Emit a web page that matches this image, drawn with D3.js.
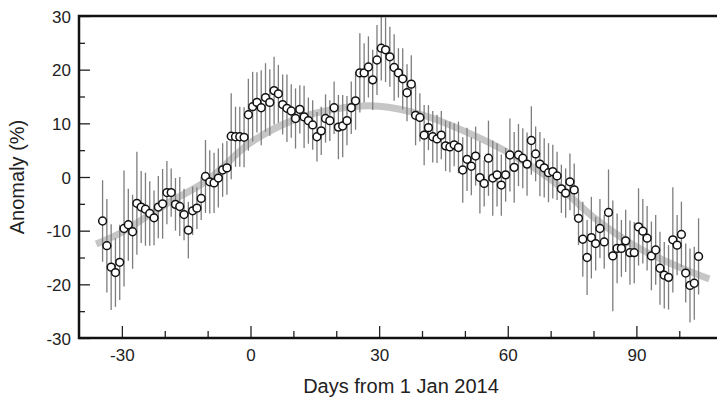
<!DOCTYPE html>
<html>
<head>
<meta charset="utf-8">
<script src="https://cdn.jsdelivr.net/npm/d3@7/dist/d3.min.js"></script>
<style>
  html, body { margin: 0; padding: 0; background: #fff; }
  svg { display: block; }
  text { font-family: "Liberation Sans", Arial, Helvetica, sans-serif; fill: #222; }
</style>
</head>
<body>
<div id="chart"></div>
<script>
// daily samples start at day -34.5 (noon)
const firstDay = -34.5;

const anomaly = [
  -8.2, -12.8, -16.8, -17.8, -15.9, -9.6, -8.9, -10.2, -4.9, -5.6,
  -6.0, -6.8, -7.6, -5.6, -5.0, -2.9, -2.9, -5.1, -5.5, -7.0,
  -9.9, -6.3, -5.8, -4.0, 0.1, -0.9, -1.1, -0.2, 1.3, 1.7,
  7.6, 7.5, 7.5, 7.4, 11.6, 13.1, 13.9, 12.9, 14.8, 13.9,
  16.1, 15.5, 13.5, 12.8, 12.3, 10.9, 12.6, 11.2, 10.5, 9.7,
  7.5, 8.6, 10.9, 10.5, 12.9, 9.3, 9.5, 10.5, 12.9, 14.2,
  19.4, 19.4, 20.5, 18.1, 21.8, 24.0, 23.7, 22.4, 20.4, 19.4,
  18.3, 15.7, 17.3, 11.5, 11.1, 7.8, 9.2, 7.5, 7.1, 7.8,
  5.8, 5.6, 6.0, 5.5, 1.3, 3.3, 2.0, 3.9, -0.1, -1.2,
  3.5, -0.2, 0.4, -1.5, 0.4, 4.1, 1.8, 4.1, 3.5, 2.4,
  6.8, 4.3, 2.4, 1.7, 0.8, 1.0, 0.2, -2.2, -3.0, -0.9,
  -2.4, -7.7, -11.6, -15.0, -11.3, -12.4, -9.6, -12.1, -6.6, -14.7,
  -13.3, -13.3, -11.9, -14.1, -14.1, -9.3, -10.1, -11.4, -14.7, -13.6,
  -17.0, -18.3, -18.7, -11.7, -12.7, -10.7, -17.9, -20.2, -19.8, -14.8
];

const errors = [
  7.6, 8.7, 8.0, 6.4, 7.0, 10.8, 6.7, 6.9, 9.6, 6.7,
  6.8, 6.0, 5.1, 5.8, 6.5, 5.9, 4.5, 4.9, 5.5, 4.8,
  5.3, 4.5, 3.9, 4.0, 6.8, 5.9, 5.6, 5.5, 5.0, 5.0,
  8.0, 5.6, 5.6, 5.6, 6.7, 6.5, 5.6, 7.0, 6.4, 6.2,
  6.3, 5.4, 5.6, 6.3, 5.0, 5.6, 4.5, 5.8, 4.3, 4.6,
  4.6, 4.5, 4.5, 3.8, 4.9, 6.0, 5.8, 4.6, 4.9, 5.4,
  7.4, 5.5, 5.7, 5.6, 6.5, 6.0, 6.0, 5.6, 6.2, 4.6,
  5.7, 5.3, 5.4, 5.6, 4.5, 5.6, 4.2, 4.8, 4.5, 4.5,
  4.7, 4.7, 4.0, 4.8, 6.1, 5.9, 5.4, 5.5, 6.7, 4.3,
  7.0, 7.0, 5.9, 5.7, 5.0, 6.8, 6.6, 5.8, 5.6, 5.9,
  6.4, 5.1, 6.0, 5.5, 5.5, 5.0, 4.5, 4.5, 4.6, 5.3,
  4.9, 5.0, 7.0, 7.0, 7.6, 5.0, 5.5, 5.0, 8.0, 10.3,
  6.5, 5.3, 5.8, 6.0, 5.7, 7.2, 6.0, 6.0, 6.4, 6.5,
  6.8, 6.2, 6.0, 9.8, 5.6, 6.1, 5.5, 6.9, 6.8, 7.1
];

// smooth fit (grey band)
const fitDays = [-36, -30, -20, -10, 0, 10, 20, 30, 40, 50, 60, 70, 80, 90, 100, 107];
const fitVals = [-12.5, -10.3, -5.2, -0.6, 6.4, 10.6, 12.7, 13.2, 11.6, 8.5, 4.6, -0.4, -7.5, -13.0, -16.8, -19.0];

const xMajor = [-30, 0, 30, 60, 90];
const xMinor = [-20, -10, 10, 20, 40, 50, 70, 80, 100];
const yMajor = [-30, -20, -10, 0, 10, 20, 30];
const yMinor = [-25, -15, -5, 5, 15, 25];

const width = 717, height = 398;

let svg = d3.select('#chart').append('svg')
  .attr('width', width)
  .attr('height', height);

let x = d3.scaleLinear().domain([-40, 108.8]).range([79, 717]),
  y = d3.scaleLinear().domain([-30, 30]).range([338, 16]);

let points = anomaly.map((v, i) => ({ day: firstDay + i, v: v, e: errors[i] }));

// fit curve
let fit = fitDays.map((d, i) => [d, fitVals[i]]);
svg.append('path')
  .datum(fit)
  .attr('d', d3.line().x(d => x(d[0])).y(d => y(d[1])).curve(d3.curveCatmullRom))
  .attr('fill', 'none')
  .attr('stroke', '#c6c6c6')
  .attr('stroke-width', 7);

// error bars
svg.append('g').selectAll('line')
  .data(points)
  .enter().append('line')
  .attr('x1', d => x(d.day))
  .attr('x2', d => x(d.day))
  .attr('y1', d => y(Math.min(d.v + d.e, 30)))
  .attr('y2', d => y(d.v - d.e))
  .attr('stroke', '#7d7d7d')
  .attr('stroke-width', 1.3);

// points
svg.append('g').selectAll('circle')
  .data(points)
  .enter().append('circle')
  .attr('cx', d => x(d.day))
  .attr('cy', d => y(d.v))
  .attr('r', 3.9)
  .attr('fill', '#fff')
  .attr('stroke', '#111')
  .attr('stroke-width', 1.5);

// axes (ticks point inward)
let fmt = d => String(d);
let yAxis = svg.append('g')
  .attr('transform', 'translate(79,0)')
  .call(d3.axisLeft(y).tickValues(yMajor).tickSize(-11).tickPadding(8).tickFormat(fmt));
svg.append('g')
  .attr('transform', 'translate(79,0)')
  .call(d3.axisLeft(y).tickValues(yMinor).tickSize(-6).tickFormat(''));

let xAxis = svg.append('g')
  .attr('transform', 'translate(0,338)')
  .call(d3.axisBottom(x).tickValues(xMajor).tickSize(-12).tickPadding(10).tickFormat(fmt));
svg.append('g')
  .attr('transform', 'translate(0,338)')
  .call(d3.axisBottom(x).tickValues(xMinor).tickSize(-7).tickFormat(''));

svg.selectAll('.domain').remove();
svg.selectAll('.tick line').attr('stroke', '#222').attr('stroke-width', 1.3);
svg.selectAll('.tick text')
  .style('font-size', '17px')
  .attr('fill', '#222');
yAxis.selectAll('.tick text').attr('dy', '0.36em');
xAxis.selectAll('.tick text').attr('y', 23).attr('dy', 0);

// frame: top, left, bottom (right edge lies outside the picture)
svg.append('path')
  .attr('d', 'M' + width + ',' + y(30) + 'H' + x(-40) + 'V' + y(-30) + 'H' + width)
  .attr('fill', 'none')
  .attr('stroke', '#111')
  .attr('stroke-width', 2.5);

// titles
svg.append('text')
  .attr('x', 401)
  .attr('y', 393)
  .attr('text-anchor', 'middle')
  .style('font-size', '20px')
  .text('Days from 1 Jan 2014');

svg.append('text')
  .attr('transform', 'translate(24,177) rotate(-90)')
  .attr('text-anchor', 'middle')
  .style('font-size', '20px')
  .text('Anomaly (%)');
</script>
</body>
</html>
